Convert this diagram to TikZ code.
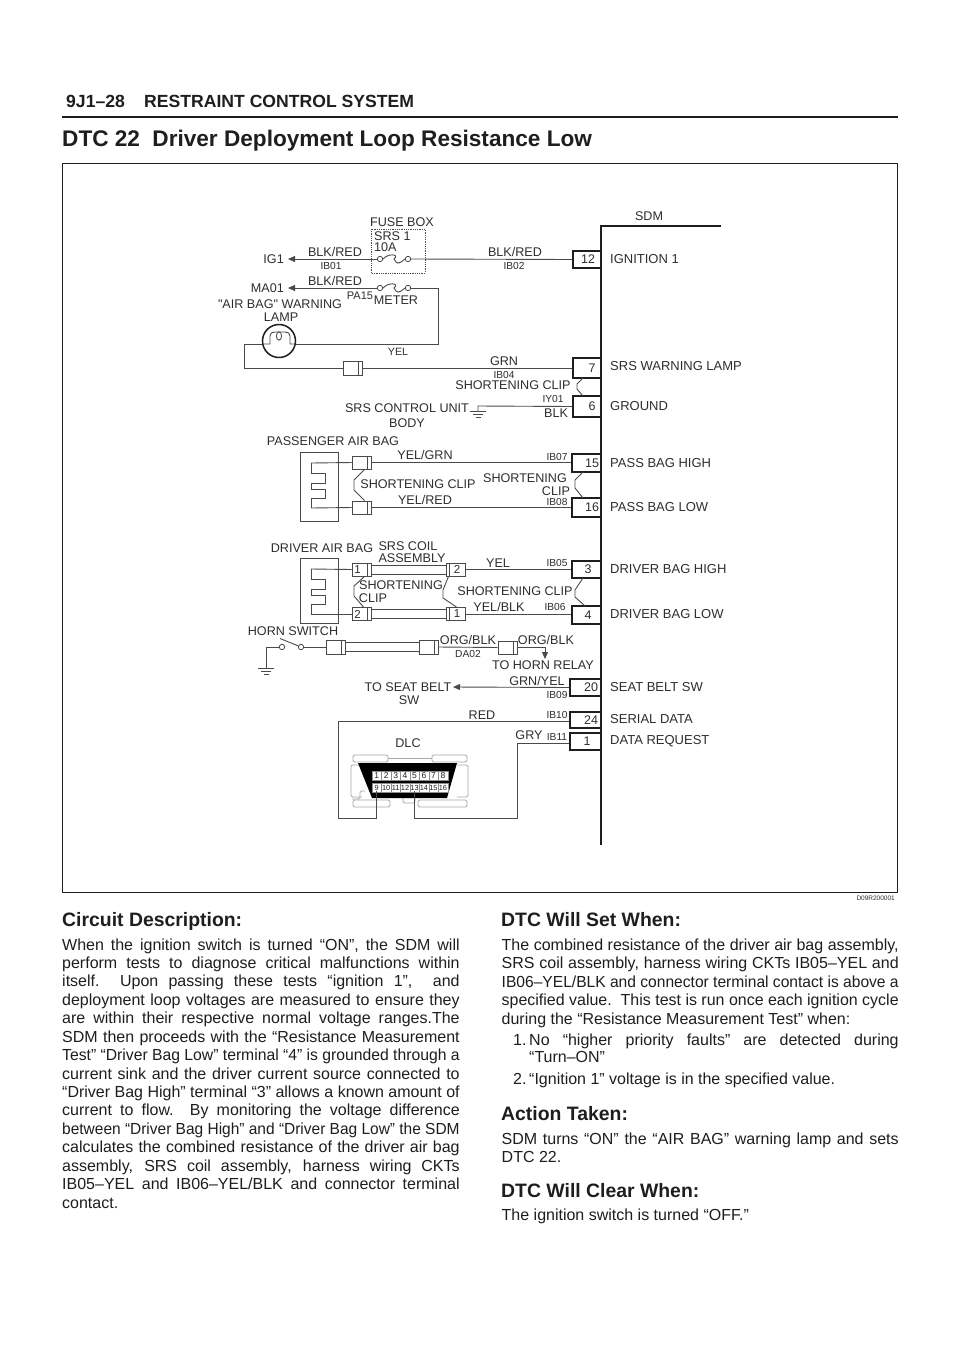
\documentclass[tikz,border=0pt]{standalone}
\usepackage{fontspec}
\setmainfont{Liberation Sans}
\newfontfamily\rawf{Liberation Sans}
\usetikzlibrary{arrows.meta,calc}
\definecolor{ink}{HTML}{1E1E1E}
\definecolor{lab}{HTML}{2E2E2E}
\definecolor{wirec}{HTML}{4A4A4A}
\definecolor{shell}{HTML}{A8A8A8}
\newcommand{\fl}{\fontsize{12.6}{13}\selectfont}
\newcommand{\fr}{\fontsize{13}{14}\selectfont}
\newcommand{\fs}{\fontsize{10.2}{11}\selectfont}
\newcommand{\fb}{\fontsize{16}{18}\selectfont}
\newsavebox{\fitbox}
\newcommand{\fit}[2]{\sbox{\fitbox}{#2}\ifdim\wd\fitbox>#1\relax\resizebox{#1}{\height}{#2}\else\hbox to #1{#2}\fi}
\newcommand{\jl}[1]{\hbox{\fit{397.5pt}{#1}}}
\newcommand{\jr}[1]{\hbox{\fit{397pt}{#1}}}
\tikzset{
  wire/.style={draw=wirec,line width=0.9pt},
  lbl/.style={font=\fl,text=lab,inner sep=0pt},
  rlbl/.style={font=\fr,text=lab,inner sep=0pt,anchor=west},
  sml/.style={font=\fs,text=lab,inner sep=0pt},
  pinbox/.style={draw=ink,line width=1.3pt,fill=white,inner sep=0pt,rectangle},
  pinnum/.style={font=\fontsize{12.5}{13}\selectfont,text=lab,inner sep=0pt},
  connbox/.style={draw=wirec,line width=0.9pt,fill=white,inner sep=0pt,minimum width=19pt,rectangle},
  clip/.style={draw=wirec,line width=0.9pt,line join=round},
  tip/.style={-{Triangle[length=7pt,width=6pt]}},
  head/.style={font=\bfseries\fontsize{19.4}{21}\selectfont,text=ink,inner sep=0pt,anchor=base west},
  para/.style={font=\fb,text=ink,inner sep=0pt,anchor=base west},
  ctc/.style={draw=wirec,line width=0.8pt,fill=white,circle,inner sep=0pt,minimum size=5.4pt},
  shl/.style={draw=shell,line width=0.8pt,rounded corners=1.5pt},
  hdr/.style={font=\bfseries\fontsize{17.6}{19}\selectfont,text=ink,inner sep=0pt,anchor=base west},
  cell/.style={fill=white,draw=black!45,line width=0.2pt,minimum width=9.45pt,minimum height=9.8pt,inner sep=0pt,text=ink},
}
\newcommand{\pinb}[5]{% name, label, left, top, bottom
  \node[pinbox,minimum width={601pt-#3pt},minimum height={#5pt-#4pt}] (#1) at ({(#3+601)/2},{(#4+#5)/2}) {};}
\newcommand{\conn}[4]{% name, cx, cy, height
  \node[connbox,minimum height=#4pt] (#1) at (#2,#3) {};}
\newcommand{\connR}[1]{\draw[wire] ([xshift=-4pt]#1.north east) -- ([xshift=-4pt]#1.south east);}
\newcommand{\connL}[1]{\draw[wire] ([xshift=4pt]#1.north west) -- ([xshift=4pt]#1.south west);}
\newcommand{\fusecurve}[2]{\draw[wire] (#1.east) .. controls +(5,-6) and +(6,-5) .. ($(#1)!0.5!(#2)$) .. controls +(3,5) and +(-7,6) .. (#2.west);}
\newcommand{\comb}[2]{% x,y top
  \begin{scope}[shift={(#1,#2)}]
  \draw[wire] (0,0) -- (0,10) -- (14,10) -- (14,20) -- (0,20) -- (0,26) -- (14,26) -- (14,35) -- (0,35) -- (0,45);
  \end{scope}}
\newcommand{\gnd}[2]{%
  \begin{scope}[shift={(#1,#2)}]
  \draw[wire] (-8,0) -- (8,0) (-5,3) -- (5,3) (-2.5,6) -- (2.5,6);
  \end{scope}}
\begin{document}
\begin{tikzpicture}[x=1pt,y=-1pt]
\useasboundingbox (0,0) rectangle (960,1358);
\fill[white] (0,0) rectangle (960,1358);
% page header
\node[hdr] (hdrA) at (66,107.5) {9J1–28};
\node[hdr] (hdrB) at (144,107.5) {RESTRAINT CONTROL SYSTEM};
\draw[ink,line width=1.6pt] (62,117) -- (898,117);
\node[font=\bfseries\fontsize{22.6}{24}\selectfont,text=ink,inner sep=0pt,anchor=base west] (ttl) at (62,146) {DTC 22\hspace{0.55em}Driver Deployment Loop Resistance Low};
\draw[ink,line width=1pt] (62,163) rectangle (897,892);
\node[font=\fontsize{6.5}{7}\selectfont,text=lab,inner sep=0pt,anchor=east] (ref) at (895,898) {D09R200001};

% SDM bar
\draw[ink,line width=1.6pt] (721,226) -- (601,226) -- (601,845);
\node[lbl] (sdm) at (649,216) {SDM};

% pins
\pinb{p12}{12}{573}{251}{268}
\pinb{p7}{7}{573}{358}{378}
\pinb{p6}{6}{573}{396}{417}
\pinb{p15}{15}{572}{454}{472}
\pinb{p16}{16}{572}{498}{517}
\pinb{p3}{3}{572}{561}{578}
\pinb{p4}{4}{572}{606}{624}
\pinb{p20}{20}{570}{679}{696}
\pinb{p24}{24}{570}{712}{728}
\pinb{p1}{1}{570}{733}{750}
\draw[ink,line width=1.6pt] (601,226) -- (601,845);
\foreach \n/\t/\x/\y in {n12/12/588/259,n7/7/592/368,n6/6/592/406.5,n15/15/592/463,n16/16/592/507.5,n3/3/588/569.5,n4/4/588/615,n20/20/591/687.5,n24/24/591/720,n1/1/587/741.5}
  \node[pinnum] (\n) at (\x,\y) {\t};
\foreach \n/\t/\y in {r1/IGNITION 1/259,r2/SRS WARNING LAMP/366,r3/GROUND/406,r4/PASS BAG HIGH/463,r5/PASS BAG LOW/507,r6/DRIVER BAG HIGH/569,r7/DRIVER BAG LOW/614,r8/SEAT BELT SW/687,r9/SERIAL DATA/719,r10/DATA REQUEST/741}
  \node[rlbl] (\n) at (610,\y) {\t};

% fuse box
\draw[wirec,line width=0.8pt,densely dotted] (371,229) rectangle (425,273);
\node[ctc] (f1a) at (380,259) {};
\node[ctc] (f1b) at (408,259) {};
\fusecurve{f1a}{f1b}
\node[ctc] (f2a) at (380,288) {};
\node[ctc] (f2b) at (408,288) {};
\fusecurve{f2a}{f2b}
\node[lbl] (fb) at (402,222) {FUSE BOX};
\node[lbl,anchor=west] (srs1) at (374,236) {SRS 1};
\node[lbl,anchor=west] (a10) at (374,247) {10A};
\node[lbl,anchor=east] (ig1) at (284,259) {IG1};
\node[lbl,anchor=east] (ma01) at (284,288) {MA01};
\coordinate (igt) at (288,259);
\coordinate (mat) at (288,288);
\draw[wire,tip] (f1a.west) -- (igt);
\draw[wire,tip] (f2a.west) -- (mat);
\draw[wire] (f1b.east) -- (p12.west);
\node[lbl] (w1) at (335,252) {BLK/RED};
\node[sml] (ib01) at (331,265.5) {IB01};
\node[lbl] (w2) at (515,252) {BLK/RED};
\node[sml] (ib02) at (514,266) {IB02};
\node[lbl] (w3) at (335,281) {BLK/RED};
\node[sml,font=\fontsize{11}{12}\selectfont] (pa15) at (360,296) {PA15};
\node[lbl] (mtr) at (396,300) {METER};
\node[lbl] (awl) at (280,304) {\rawf "AIR BAG" WARNING};
\node[lbl] (lmp) at (281,317) {LAMP};

% lamp loop
\node[draw=ink,line width=1.5pt,circle,minimum size=33pt,inner sep=0pt,fill=white] (lamp) at (279,341) {};
\coordinate (lj) at (438,344);
\coordinate (lk) at (244,368);
\conn{c7}{352.5}{368}{14}
\connR{c7}
\draw[wire] (f2b.east) -| (lj) -- (lamp.east |- lj);
\draw[wire] (lamp.west |- lj) -- (lk |- lj) -- (lk) -- (c7.west);
\draw[wire] (c7.east) -- (p7.west);
\draw[wire] (263,344) -- (270,344) -- (270,336) .. controls (270,333) and (272,332) .. (275,332) -- (285,332) .. controls (288,332) and (290,333) .. (290,336) -- (290,344) -- (295,344);
\draw[wire] (279,336) ellipse (2.6 and 4.2);
\node[sml,font=\fontsize{10.6}{11}\selectfont] (yel) at (398,352) {YEL};
\node[lbl] (grn) at (504,361) {GRN};
\node[sml] (ib04) at (504,374.5) {IB04};
\node[lbl] (sc1) at (513,385) {SHORTENING CLIP};
\coordinate (clip7) at (583,378);
\coordinate (clip6) at (583,396);
\draw[clip] (clip7) -- (577,384) -- (577,389) -- (clip6);
\node[sml] (iy01) at (553,398.5) {IY01};
\node[lbl] (blk) at (556,413) {BLK};
\coordinate (gt) at (478,406);
\draw[wire] (p6.west) -- (gt) -- (478,411);
\gnd{478}{411}
\node[lbl] (scu) at (407,408) {SRS CONTROL UNIT};
\node[lbl] (bdy) at (407,423) {BODY};

% passenger air bag
\node[lbl] (pab) at (333,441) {PASSENGER AIR BAG};
\node[draw=wirec,line width=0.8pt,minimum width=38pt,minimum height=69pt,inner sep=0pt] (pbag) at (319,486.5) {};
\comb{311}{463}
\conn{cp1}{361.5}{462.5}{13}
\conn{cp2}{361.5}{507.5}{13}
\connR{cp1}\connR{cp2}
\draw[wire] (311,463) -- (cp1.west);
\draw[wire] (311,508) -- (cp2.west);
\draw[wire] (cp1.east) -- (p15.west |- cp1.east);
\draw[wire] (cp2.east) -- (p16.west |- cp2.east);
\draw[clip] (cp1.south) ++(3,0) -- (354,480) -- (354,490) -- ([xshift=3pt]cp2.north);
\coordinate (clip15) at (583,472);
\coordinate (clip16) at (583,498);
\draw[clip] (clip15) -- (575,480) -- (575,488) -- (clip16);
\node[lbl] (yg) at (425,455) {YEL/GRN};
\node[lbl] (yr) at (425,500) {YEL/RED};
\node[lbl] (sc2) at (418,484) {SHORTENING CLIP};
\node[lbl] (sc3) at (525,478) {SHORTENING};
\node[lbl] (sc3b) at (556,491) {CLIP};
\node[sml] (ib07) at (557,457) {IB07};
\node[sml] (ib08) at (557,502) {IB08};

% driver air bag
\node[lbl] (dab) at (322,548) {DRIVER AIR BAG};
\node[draw=wirec,line width=0.8pt,minimum width=38pt,minimum height=65pt,inner sep=0pt] (dbag) at (319,590.5) {};
\comb{311}{569}
\conn{cd1}{361.5}{569.5}{13}
\conn{cd2}{361.5}{614}{13}
\conn{cs2}{455.5}{569.5}{13}
\conn{cs1}{455.5}{614}{13}
\connR{cd1}\connR{cd2}\connL{cs2}\connL{cs1}
\node[pinnum,font=\fontsize{11.5}{12}\selectfont] (d1n) at (357.5,569.5) {1};
\node[pinnum,font=\fontsize{11.5}{12}\selectfont] (d2n) at (357.5,614) {2};
\node[pinnum,font=\fontsize{11.5}{12}\selectfont] (s2n) at (457,569.5) {2};
\node[pinnum,font=\fontsize{11.5}{12}\selectfont] (s1n) at (457,614) {1};
\draw[wire] (311,569) -- (cd1.west);
\draw[wire] (311,614) -- (cd2.west);
\draw[wire] ([yshift=-4.5pt]cd1.east) -- ([yshift=-4.5pt]cs2.west);
\draw[wire] ([yshift=4.5pt]cd1.east) -- ([yshift=4.5pt]cs2.west);
\draw[wire] ([yshift=-4.5pt]cd2.east) -- ([yshift=-4.5pt]cs1.west);
\draw[wire] ([yshift=4.5pt]cd2.east) -- ([yshift=4.5pt]cs1.west);
\draw[wire] (cs2.east) -- (p3.west |- cs2.east);
\draw[wire] (cs1.east) -- (p4.west |- cs1.east);
\draw[clip] ([xshift=3pt]cd1.south) -- (354,586) -- (354,596) -- ([xshift=2pt]cd2.north);
\draw[clip] ([xshift=-7pt]cs2.south) -- (443,590) -- (443,598) -- ([xshift=1pt]cs1.north);
\coordinate (clip3) at (583,578);
\coordinate (clip4) at (585,606);
\draw[clip] (clip3) -- (575,590) -- (575,597) -- (clip4);
\node[lbl] (sca) at (408,546) {SRS COIL};
\node[lbl] (scb) at (412,558) {ASSEMBLY};
\node[lbl] (y1) at (498,563) {YEL};
\node[sml] (ib05) at (557,563) {IB05};
\node[lbl] (sc4) at (401,585) {SHORTENING};
\node[lbl] (sc4b) at (373,598) {CLIP};
\node[lbl] (sc5) at (515,591) {SHORTENING CLIP};
\node[lbl] (yb) at (499,607) {YEL/BLK};
\node[sml] (ib06) at (555,607) {IB06};

% horn
\node[lbl] (hs) at (293,631) {HORN SWITCH};
\node[ctc] (h1) at (282,647) {};
\node[ctc] (h2) at (301,647) {};
\draw[wire] (280,638.5) -- (h2);
\coordinate (hg) at (266,668);
\draw[wire] (h1.west) -- (266,647) -- (hg);
\gnd{266}{668}
\conn{hc1}{335.5}{647}{14}
\conn{hc2}{428.5}{647}{14}
\conn{hc3}{507.5}{647.5}{13}
\connR{hc1}\connR{hc2}\connR{hc3}
\draw[wire] (h2.east) -- (hc1.west);
\draw[wire] ([yshift=-4.5pt]hc1.east) -- ([yshift=-4.5pt]hc2.west);
\draw[wire] ([yshift=4.5pt]hc1.east) -- ([yshift=4.5pt]hc2.west);
\draw[wire] (hc2.east) -- (hc3.west);
\coordinate (hrn) at (545,659);
\draw[wire,tip] (hc3.east) -| (hrn);
\node[lbl] (ob1) at (468,640) {ORG/BLK};
\node[lbl] (ob2) at (546,640) {ORG/BLK};
\node[sml] (da02) at (468,654) {DA02};
\node[lbl] (thr) at (543,665) {TO HORN RELAY};

% seat belt
\node[lbl] (tsb) at (408,687) {TO SEAT BELT};
\node[lbl] (tsw) at (409,700) {SW};
\coordinate (stip) at (453,687);
\draw[wire,tip] (p20.west) -- (stip);
\node[lbl] (gy) at (537,681) {GRN/YEL};
\node[sml] (ib09) at (557,695) {IB09};

% DLC
\node[lbl] (dlc) at (408,743) {DLC};
\draw[shl] (353,755) rectangle (388,762);
\draw[shl] (432,755) rectangle (467,762);
\draw[shl] (388,758) -- (432,758);
\draw[shl] (362,765) -- (351,765) -- (351,797) -- (362,797);
\draw[shl] (457,765) -- (468,765) -- (468,797) -- (457,797);
\draw[shl] (353,800) rectangle (390,807);
\draw[shl] (418,800) rectangle (467,807);
\draw[shl] (403,797) rectangle (415,803);
\draw[shl] (352,799) -- (360,799) -- (360,791) -- (365,791);
\fill[black] (358,763) -- (457,763) -- (447,798) -- (372,798) -- cycle;
\foreach \k in {1,...,8}{
  \node[cell,font=\fontsize{8.5}{9}\selectfont] (dlc\k) at ({372+(\k-0.5)*9.45},775.5) {\k};
  \pgfmathtruncatemacro{\m}{\k+8}
  \node[cell,font=\fontsize{7.4}{8}\selectfont] (dlc\m) at ({372+(\k-0.5)*9.45},787.5) {\m};
}
\coordinate (rc) at (338,721);
\coordinate (rd) at (338,818);
\coordinate (gc) at (517,743);
\coordinate (ge) at (517,818);
\draw[wire] (p24.west |- rc) -- (rc) -- (rd) -| ([yshift=-3pt]dlc9.center);
\draw[wire] (p1.west |- gc) -- (gc) -- (ge) -| ([yshift=-3pt]dlc13.center);
\node[lbl] (rdl) at (482,715) {RED};
\node[sml] (ib10) at (557,715) {IB10};
\node[lbl] (gryl) at (529,735) {GRY};
\node[sml] (ib11) at (557,737) {IB11};

% text columns
\node[head] (hL) at (62,926.5) {Circuit Description:};
\node[para] (tL) at (62,950) {\vtop{\baselineskip=18.43pt
\jl{When the ignition switch is turned “ON”, the SDM will}
\jl{perform tests to diagnose critical malfunctions within}
\jl{itself.\ \ Upon passing these tests “ignition 1”,\ \ and}
\jl{deployment loop voltages are measured to ensure they}
\jl{are within their respective normal voltage ranges.The}
\jl{SDM then proceeds with the “Resistance Measurement}
\jl{Test” “Driver Bag Low” terminal “4” is grounded through a}
\jl{current sink and the driver current source connected to}
\jl{“Driver Bag High” terminal “3” allows a known amount of}
\jl{current to flow.\ \ By monitoring the voltage difference}
\jl{between “Driver Bag High” and “Driver Bag Low” the SDM}
\jl{calculates the combined resistance of the driver air bag}
\jl{assembly, SRS coil assembly, harness wiring CKTs}
\jl{IB05–YEL and IB06–YEL/BLK and connector terminal}
\hbox{contact.}}};
\node[head] (hR) at (501,926.5) {DTC Will Set When:};
\node[para] (tR) at (501.5,950) {\vtop{\baselineskip=18.5pt
\jr{The combined resistance of the driver air bag assembly,}
\jr{SRS coil assembly, harness wiring CKTs IB05–YEL and}
\jr{IB06–YEL/BLK and connector terminal contact is above a}
\jr{specified value.\ \ This test is run once each ignition cycle}
\hbox{during the “Resistance Measurement Test” when:}}};
\node[para] (it1n) at (513,1045) {1.};
\node[para] (it1) at (529,1045) {\hbox to 369.5pt{No “higher priority faults” are detected during}};
\node[para] (it1b) at (529,1062.5) {“Turn–ON”};
\node[para] (it2n) at (513,1084) {2.};
\node[para] (it2) at (529,1084) {“Ignition 1” voltage is in the specified value.};
\node[head] (hA) at (501,1120) {Action Taken:};
\node[para] (tA) at (501.5,1144) {\vtop{\baselineskip=18.5pt
\jr{SDM turns “ON” the “AIR BAG” warning lamp and sets}
\hbox{DTC 22.}}};
\node[head] (hC) at (501,1197) {DTC Will Clear When:};
\node[para] (tC) at (501.5,1220) {The ignition switch is turned “OFF.”};
\end{tikzpicture}
\end{document}
